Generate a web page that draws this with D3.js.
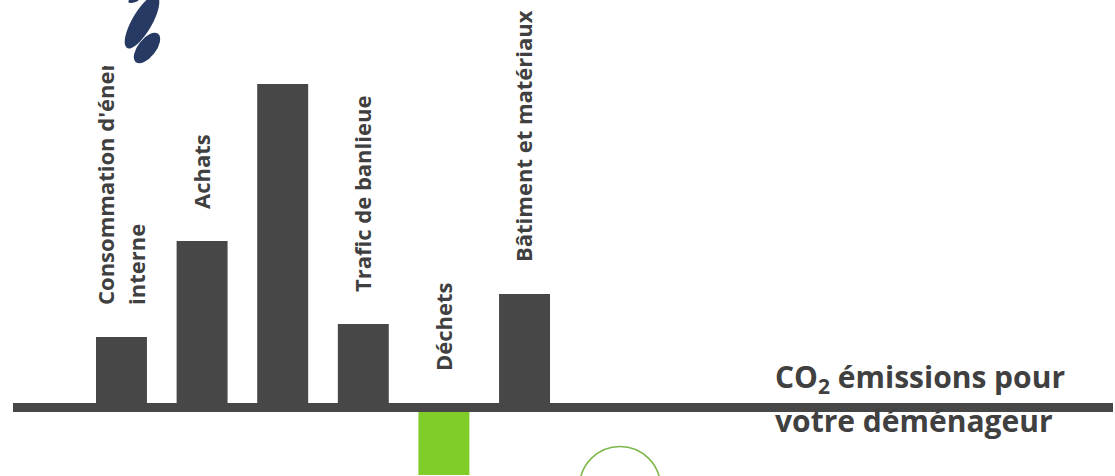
<!DOCTYPE html>
<html lang="fr">
<head>
    <meta charset="UTF-8">
    <title>CO2 émissions</title>
    <script src="https://d3js.org/d3.v7.min.js"></script>
    <style>
        body { margin: 0; background: #ffffff; }
        svg { display: block; }
        text { font-family: "Open Sans", "Noto Sans", sans-serif; font-weight: bold; fill: #404040; }
    </style>
</head>
<body>
<script>
    // chart data
    var categories = ["conso", "achats", "autre", "trafic", "dechets", "batiment"];
    var labels = [["Consommation d'énergie", "interne"], ["Achats"], [], ["Trafic de banlieue"], ["Déchets"], ["Bâtiment et matériaux"]];
    var values = [66, 162, 319, 79, -72, 109];
    var titleLines = ["émissions pour", "votre déménageur"];

    var w = 1115;
    var h = 476;

    var svg = d3.select("body")
        .append("svg")
        .attr("width", w)
        .attr("height", h);

    var xScale = d3.scaleBand()
        .domain(categories)
        .range([96, 550])
        .paddingInner(0.368)
        .paddingOuter(0);

    var yScale = d3.scaleLinear()
        .domain([d3.min(values), d3.max(values)])
        .range([475, 84]);

    // logo fragment at the top
    var logo = svg.append("g").attr("fill", "#263a63");
    logo.append("ellipse")
        .attr("transform", "translate(142,22) rotate(-60)")
        .attr("rx", 30).attr("ry", 10);
    logo.append("ellipse")
        .attr("transform", "translate(147,48) rotate(-52)")
        .attr("rx", 18).attr("ry", 9);
    logo.append("ellipse")
        .attr("transform", "translate(134,0) rotate(-20)")
        .attr("rx", 6).attr("ry", 2.5);

    // bars
    svg.selectAll("rect.bar")
        .data(values)
        .enter()
        .append("rect")
        .attr("class", "bar")
        .attr("x", function(d, i) { return xScale(categories[i]); })
        .attr("y", function(d) { return yScale(Math.max(0, d)); })
        .attr("width", xScale.bandwidth())
        .attr("height", function(d) { return Math.abs(yScale(d) - yScale(0)); })
        .attr("fill", function(d) { return d < 0 ? "#80cc28" : "#474747"; });

    // baseline
    svg.append("rect")
        .attr("x", 13)
        .attr("y", yScale(0))
        .attr("width", 1100)
        .attr("height", 9)
        .attr("fill", "#474747");

    // clip for the first (cut) label
    svg.append("clipPath")
        .attr("id", "clip1")
        .append("rect")
        .attr("x", 0).attr("y", 66).attr("width", w).attr("height", h);

    // rotated category labels
    var lineGap = 31;
    labels.forEach(function(lines, i) {
        if (lines.length === 0) return;
        var cx = xScale(categories[i]) + xScale.bandwidth() / 2;
        var y0 = yScale(Math.max(0, values[i])) - 32;
        var g = svg.append("g");
        if (i === 0) g.attr("clip-path", "url(#clip1)");
        var t = g.append("text")
            .attr("transform", "translate(" + cx + "," + y0 + ") rotate(-90)")
            .attr("font-size", "22px");
        lines.forEach(function(line, j) {
            t.append("tspan")
                .attr("x", 0)
                .attr("y", (j - (lines.length - 1) / 2) * lineGap)
                .attr("dy", "0.35em")
                .text(line);
        });
    });

    // title text at the right
    var title = svg.append("text")
        .attr("x", 775)
        .attr("y", 388)
        .attr("font-size", "30px");
    title.append("tspan").text("CO");
    title.append("tspan").attr("font-size", "21px").attr("dy", 6).text("2");
    title.append("tspan").attr("dy", -6).text(" " + titleLines[0]);
    svg.append("text")
        .attr("x", 775)
        .attr("y", 432)
        .attr("font-size", "30px")
        .text(titleLines[1]);

    // green circle outline
    svg.append("circle")
        .attr("cx", 620)
        .attr("cy", 487)
        .attr("r", 40.5)
        .attr("fill", "none")
        .attr("stroke", "#7ab648")
        .attr("stroke-width", 1.5);
</script>
</body>
</html>
